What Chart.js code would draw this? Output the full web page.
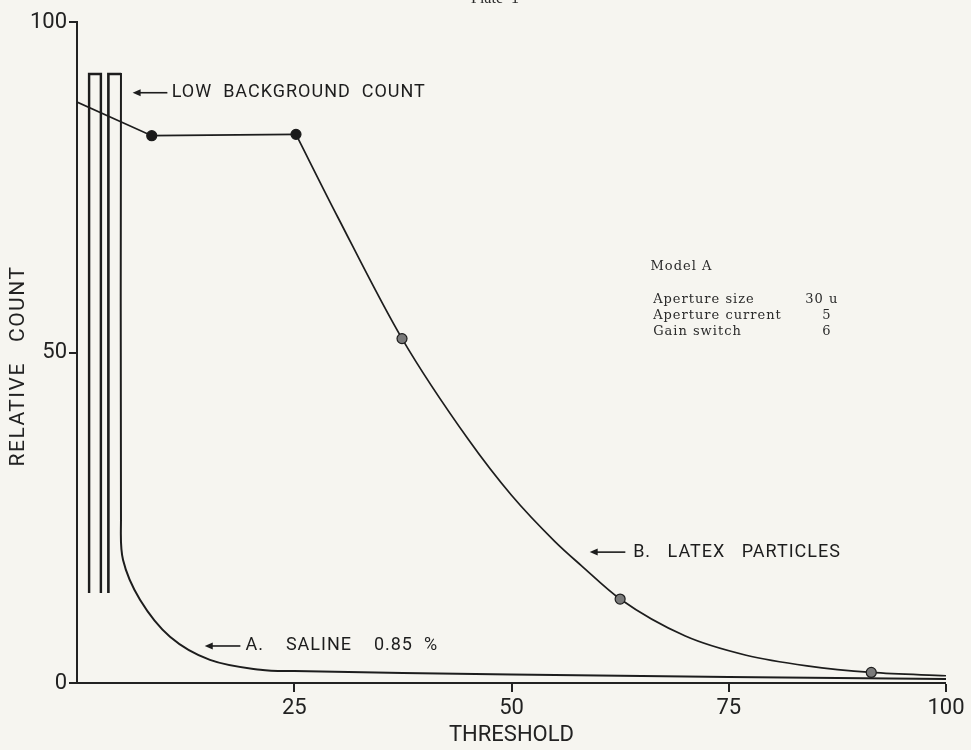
<!DOCTYPE html>
<html>
<head>
<meta charset="utf-8">
<script src="https://cdn.jsdelivr.net/npm/chart.js@4.4.1/dist/chart.umd.min.js"></script>
<style>
  html,body{margin:0;padding:0;background:#f6f5f0;}
  #wrap{width:971px;height:750px;}
</style>
</head>
<body>
<div id="wrap"><canvas id="plate" width="971" height="750"></canvas></div>
<script>
// Plate 1 - threshold (x) vs relative count (y)
const bgBarX    = [2.07, 4.3];
const bgBarLow  = [13.6, 13.6];
const bgBarHigh = [92.3, 92.3];

const salineX = [5.06, 5.06, 5.3, 7.25, 10.7, 15.3, 21.1, 25, 50, 75, 100];
const salineY = [92.3, 24.7, 18.6, 12.6, 7.0, 3.5, 2.0, 1.8, 1.3, 0.9, 0.6];

const latexStartX = [0, 8.6, 25.2];
const latexStartY = [87.9, 82.8, 83.0];
const latexCurveX = [25.2, 30, 37.4, 45, 50, 55, 58, 62.5, 70, 77, 84, 91.4, 100];
const latexCurveY = [83.0, 70.5, 52.1, 36.9, 28.4, 21.4, 17.8, 12.7, 7.1, 4.2, 2.6, 1.6, 1.1];
const latexPtX = [8.6, 25.2, 37.4, 62.5, 91.4];
const latexPtY = [82.8, 83.0, 52.1, 12.7, 1.6];
const latexPtFill = ['#1a1a1a', '#1a1a1a', '#7a7a7a', '#7a7a7a', '#7a7a7a'];

const xTicks = [0, 25, 50, 75, 100];
const yTicks = [0, 50, 100];

const noteText  = ['LOW  BACKGROUND  COUNT', 'B.   LATEX   PARTICLES', 'A.    SALINE    0.85  %'];
const noteAt    = [[10.9, 89.3], [64.0, 19.8], [19.4, 5.6]];
const noteArrow = [[6.4, 10.4], [59.0, 63.1], [14.7, 18.8]];

const modelTitle  = 'Model A';
const modelLabels = ['Aperture size', 'Aperture current', 'Gain switch'];
const modelValues = ['30 u', '5', '6'];

const ink = '#1d1d1d';

const paper = {
  id: 'paper',
  beforeDraw(chart){
    const c = chart.ctx;
    c.save();
    c.fillStyle = '#f6f5f0';
    c.fillRect(0, 0, chart.width, chart.height);
    c.restore();
  }
};

const notes = {
  id: 'notes',
  afterDraw(chart){
    const c = chart.ctx, x = chart.scales.x, y = chart.scales.y;
    c.save();
    c.fillStyle = ink; c.strokeStyle = ink; c.lineWidth = 1.6;
    c.textBaseline = 'middle';
    c.font = '18px Roboto';
    c.letterSpacing = '1px';
    noteText.forEach((t, i) => {
      const py = y.getPixelForValue(noteAt[i][1]);
      const a0 = x.getPixelForValue(noteArrow[i][0]), a1 = x.getPixelForValue(noteArrow[i][1]);
      c.beginPath(); c.moveTo(a0 + 6, py); c.lineTo(a1, py); c.stroke();
      c.beginPath(); c.moveTo(a0, py); c.lineTo(a0 + 8, py - 3.5); c.lineTo(a0 + 8, py + 3.5); c.closePath(); c.fill();
      c.fillText(t, x.getPixelForValue(noteAt[i][0]), py);
    });

    // y axis title, drawn by hand so it sits where the plate has it
    c.save();
    c.translate(19, 366); c.rotate(-Math.PI / 2);
    c.textAlign = 'center';
    c.font = '21px Roboto';
    c.letterSpacing = '1.5px';
    c.fillStyle = '#222';
    c.fillText('RELATIVE   COUNT', 0, 0);
    c.restore();

    // model box
    c.font = '13px "DejaVu Serif"';
    c.letterSpacing = '1px';
    c.fillStyle = '#2a2a2a';
    c.fillText(modelTitle, x.getPixelForValue(66.0), y.getPixelForValue(63.0));
    const rows = [58.0, 55.6, 53.2];
    modelLabels.forEach((t, i) => {
      c.textAlign = 'left';
      c.fillText(t, x.getPixelForValue(66.3), y.getPixelForValue(rows[i]));
      c.textAlign = i === 0 ? 'left' : 'center';
      c.fillText(modelValues[i], i === 0 ? x.getPixelForValue(83.8) : x.getPixelForValue(86.3), y.getPixelForValue(rows[i]));
    });

    // page heading, cut off by the top edge
    c.textAlign = 'center'; c.textBaseline = 'alphabetic';
    c.letterSpacing = '0px';
    c.font = '16px "Liberation Serif"';
    c.fillText('Plate  1', 495, 3);
    c.restore();
  }
};

new Chart(document.getElementById('plate'), {
  type: 'line',
  data: {
    datasets: [
      {type:'scatter', label:'points', data: latexPtX.map((v,i)=>({x:v, y:latexPtY[i]})),
       pointRadius:5, pointBackgroundColor: latexPtFill, pointBorderColor: ink, pointBorderWidth:1.2, order:0},
      {label:'latex start', data: latexStartX.map((v,i)=>({x:v, y:latexStartY[i]})),
       borderColor: ink, borderWidth:1.7, pointRadius:0, tension:0, fill:false, order:1},
      {label:'latex', data: latexCurveX.map((v,i)=>({x:v, y:latexCurveY[i]})),
       borderColor: ink, borderWidth:1.7, pointRadius:0, cubicInterpolationMode:'monotone', fill:false, order:1},
      {label:'saline', data: salineX.map((v,i)=>({x:v, y:salineY[i]})),
       borderColor: ink, borderWidth:2, pointRadius:0, tension:0.35, fill:false, order:1},
      {type:'bar', label:'background', data: bgBarX.map((v,i)=>({x:v, y:[bgBarLow[i], bgBarHigh[i]]})),
       backgroundColor:'rgba(0,0,0,0)', borderColor: ink, borderSkipped:false,
       borderWidth:[{top:2,left:2,right:2,bottom:0},{top:2,left:2,right:0,bottom:0}],
       barThickness:14, grouped:false, order:2}
    ]
  },
  options: {
    responsive:false, animation:false, devicePixelRatio:1,
    layout:{padding:{top:22, right:25, left:0, bottom:0}},
    plugins:{legend:{display:false}, tooltip:{enabled:false}},
    scales:{
      x:{type:'linear', min:0, max:100, offset:false,
         afterBuildTicks: s => { s.ticks = xTicks.map(v => ({value:v})); },
         afterFit: s => { s.height = 67; },
         ticks:{callback: v => v === 0 ? '' : String(v), font:{family:'Roboto', size:22}, color:'#222', padding:3, maxRotation:0, autoSkip:false},
         grid:{offset:false, drawOnChartArea:false, drawTicks:true, tickLength:9, color:'#222',
               lineWidth: c => (c.tick && c.tick.value === 0) ? 0 : 2},
         border:{display:true, color:'#222', width:2},
         title:{display:true, text:'THRESHOLD', font:{family:'Roboto', size:22}, color:'#222', padding:{top:0, bottom:1}}},
      y:{type:'linear', min:0, max:100,
         afterBuildTicks: s => { s.ticks = yTicks.map(v => ({value:v})); },
         afterFit: s => { s.width = 77; },
         ticks:{font:{family:'Roboto', size:22}, color:'#222', padding:2},
         grid:{offset:false, drawOnChartArea:false, drawTicks:true, tickLength:8, color:'#222', lineWidth:2},
         border:{display:true, color:'#222', width:2},
         title:{display:false}}
    }
  },
  plugins:[paper, notes]
});
</script>
</body>
</html>
